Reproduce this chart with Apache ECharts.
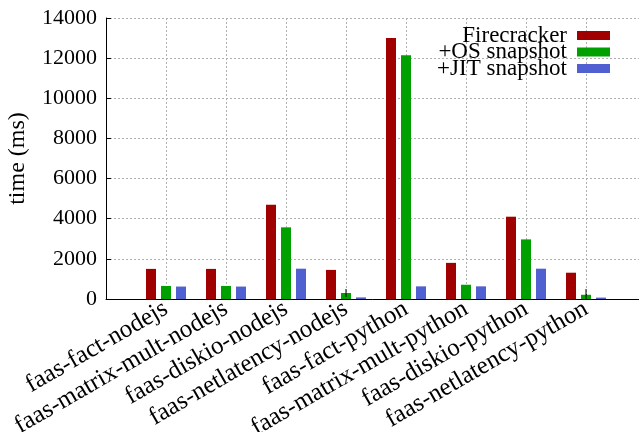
<!DOCTYPE html>
<html>
<head>
<meta charset="utf-8">
<script src="https://cdn.jsdelivr.net/npm/echarts@6/dist/echarts.min.js"></script>
<style>
html,body{margin:0;padding:0;background:#fff;}
#chart{width:639px;height:432px;}
</style>
</head>
<body>
<div id="chart"></div>
<script>
const categories = ['faas-fact-nodejs','faas-matrix-mult-nodejs','faas-diskio-nodejs','faas-netlatency-nodejs','faas-fact-python','faas-matrix-mult-python','faas-diskio-python','faas-netlatency-python'];
const firecracker = [1500, 1500, 4700, 1450, 13000, 1800, 4100, 1310];
const osSnapshot  = [650, 650, 3570, 300, 12150, 710, 2970, 210];
const jitSnapshot = [620, 620, 1510, 80, 630, 630, 1510, 70];
const osErr       = [0, 0, 0, 200, 0, 0, 0, 290];
const yTicks = [0, 2000, 4000, 6000, 8000, 10000, 12000, 14000];

const FONT = 'Liberation Serif';
const chart = echarts.init(document.getElementById('chart'), null, {renderer:'canvas'});

function pairs(arr){ return arr.map((v,i)=>[i,v]); }

const errData = osSnapshot.map((v,i)=>[i, v-osErr[i], v+osErr[i]]).filter((d,i)=>osErr[i]>0);
const gridStyle = {color:'#b0b0b0', width:1, type:[2,2]};

chart.setOption({
  animation:false,
  backgroundColor:'#ffffff',
  textStyle:{fontFamily:FONT, color:'#000'},
  grid:{left:106, top:18, bottom:133, right:-7, containLabel:false, outerBoundsMode:'none'},
  legend:{
    orient:'vertical', right:29, top:24, align:'right',
    itemWidth:33, itemHeight:9, itemGap:-6.5, padding:0,
    icon:'rect',
    textStyle:{fontFamily:FONT, fontSize:23, color:'#000', padding:[0,5,0,0]},
    data:['Firecracker','+OS snapshot','+JIT snapshot']
  },
  xAxis:{
    type:'value', min:-1, max:8, interval:1,
    axisLine:{show:true, onZero:false, lineStyle:{color:'#000', width:1}},
    axisTick:{show:true, inside:true, length:5, lineStyle:{color:'#000'}},
    splitLine:{show:true, lineStyle:gridStyle},
    axisLabel:{
      rotate:30, margin:8, fontFamily:FONT, fontSize:25, color:'#000',
      showMinLabel:true, showMaxLabel:true, hideOverlap:false,
      formatter:function(v){ return (v>=0 && v<categories.length && Number.isInteger(v)) ? categories[v] : ''; }
    }
  },
  yAxis:{
    type:'value', min:yTicks[0], max:yTicks[yTicks.length-1], interval:2000,
    name:'time (ms)', nameLocation:'middle', nameGap:76, nameRotate:90,
    nameTextStyle:{fontFamily:FONT, fontSize:24, color:'#000'},
    axisLine:{show:true, onZero:false, lineStyle:{color:'#000', width:1}},
    axisTick:{show:true, inside:true, length:5, lineStyle:{color:'#000'}},
    splitLine:{show:true, lineStyle:gridStyle},
    axisLabel:{margin:9, fontFamily:FONT, fontSize:22, color:'#000', formatter:function(v){ return String(v); }}
  },
  series:[
    {name:'Firecracker', type:'bar', data:pairs(firecracker), barWidth:10, barGap:'50%', itemStyle:{color:'#a00000'}},
    {name:'+OS snapshot', type:'bar', data:pairs(osSnapshot), barWidth:10, barGap:'50%', itemStyle:{color:'#00a000'}},
    {name:'+JIT snapshot', type:'bar', data:pairs(jitSnapshot), barWidth:10, barGap:'50%', itemStyle:{color:'#5060d0'}},
    {
      type:'custom', z:5, silent:true,
      data:errData,
      renderItem:function(params, api){
        const top = api.coord([api.value(0), api.value(2)]);
        const bot = api.coord([api.value(0), Math.max(0, api.value(1))]);
        return {type:'line', shape:{x1:top[0], y1:top[1], x2:bot[0], y2:bot[1]}, style:{stroke:'#000', lineWidth:1}};
      }
    }
  ]
});
</script>
</body>
</html>
